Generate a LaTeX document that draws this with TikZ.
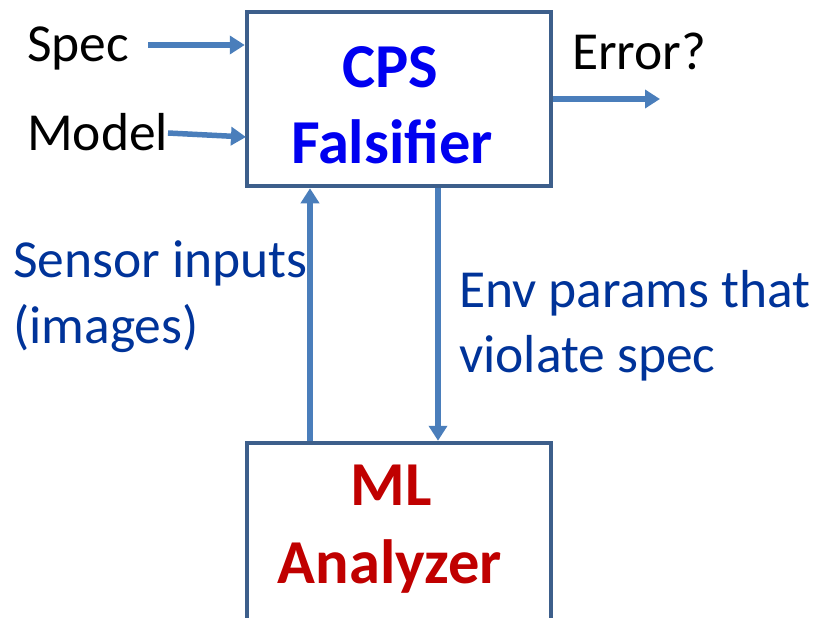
\documentclass[tikz,border=0pt]{standalone}
\usepackage{fontspec}
\setmainfont{Carlito}
\usetikzlibrary{arrows.meta}
\definecolor{boxline}{HTML}{3D5F8B}
\definecolor{arrowc}{HTML}{4A7EBB}
\definecolor{lblue}{HTML}{003399}
\definecolor{tblue}{HTML}{0000F0}
\definecolor{tred}{HTML}{C00000}
\begin{document}
\begin{tikzpicture}[x=1pt,y=-1pt,
  box/.style={draw=boxline,line width=4.5pt,fill=white,inner sep=0pt},
  conn/.style={draw=arrowc,line width=5.5pt,-{Triangle[length=15pt,width=18pt]}},
  plain/.style={inner sep=0pt,font=\fontsize{53.5}{66}\selectfont},
  title/.style={inner sep=0pt,anchor=base,font=\fontsize{62.5}{76}\selectfont\bfseries}]
\useasboundingbox (0,0) rectangle (814,618);
% boxes
\node[box,minimum width=304pt,minimum height=174pt] (cps) at (399,99) {};
\node[box,minimum width=304pt,minimum height=200pt] (ml) at (399,543) {};
% box texts
\node[title,text=tblue] (cps1) at (390,88) {CPS};
\node[title,text=tblue] (cps2) at (392,163) {Falsifier};
\node[title,text=tred] (ml1) at (391,505) {ML};
\node[title,text=tred] (ml2) at (390,583) {Analyzer};
% side labels
\node[plain,anchor=base west] (spec) at (27,62) {Spec};
\node[plain,anchor=base west] (model) at (27,150) {Model};
\node[plain,anchor=base west] (err) at (572,70) {Error?};
\node[plain,anchor=base west,text=lblue] (sens1) at (13,277) {Sensor inputs};
\node[plain,anchor=base west,text=lblue] (sens2) at (13,343) {(images)};
\node[plain,anchor=base west,text=lblue] (env1) at (459,307) {Env params that};
\node[plain,anchor=base west,text=lblue] (env2) at (459,372) {violate spec};
% connector ends
\coordinate (specs) at (148,45);
\coordinate (models) at (168,133);
\coordinate (modele) at (246,137);
\coordinate (erre) at (660,99);
% connectors
\draw[conn] (specs) -- (specs -| cps.west);
\draw[conn] (models) -- (modele);
\draw[conn] (cps.east |- erre) -- (erre);
\draw[conn] (ml.north -| 310,0) -- (cps.south -| 310,0);
\draw[conn] (cps.south -| 438,0) -- (ml.north -| 438,0);
\end{tikzpicture}
\end{document}
